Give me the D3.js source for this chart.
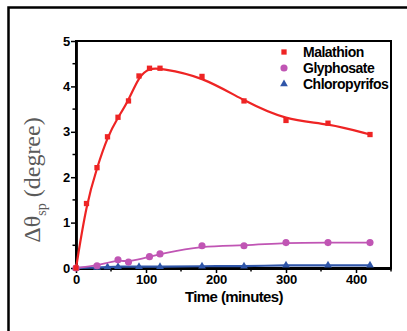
<!DOCTYPE html>
<html lang="en">
<head>
<meta charset="UTF-8">
<title>Contact angle change</title>
<script src="https://d3js.org/d3.v7.min.js"></script>
<style>
  body { margin: 0; background: #fff; }
  text { font-family: "Liberation Sans", Arial, sans-serif; }
</style>
</head>
<body>
<script>
    const width  = 407;
    const height = 331;

    // time in minutes
    const malathionT = [0, 15, 30, 45, 60, 75, 90, 105, 120, 180, 240, 300, 360, 420];
    const malathionY = [0, 1.42, 2.21, 2.89, 3.32, 3.68, 4.23, 4.40, 4.40, 4.22, 3.68, 3.25, 3.19, 2.94];

    const glyphosateT = [0, 30, 60, 75, 105, 120, 180, 240, 300, 360, 420];
    const glyphosateY = [0, 0.05, 0.18, 0.13, 0.25, 0.31, 0.49, 0.49, 0.56, 0.56, 0.56];

    const chloroT = [0, 30, 45, 60, 90, 120, 180, 240, 300, 360, 420];
    const chloroY = [0, 0.01, 0.02, 0.03, 0.03, 0.03, 0.04, 0.04, 0.06, 0.06, 0.06];

    const xTicks = [0, 100, 200, 300, 400];
    const yTicks = [0, 1, 2, 3, 4, 5];
    const legendNames = ["Malathion", "Glyphosate", "Chloropyrifos"];

    const plotLeft = 76, plotRight = 391, plotTop = 41, plotBottom = 268;

    const x = d3.scaleLinear().domain([0, 450]).range([plotLeft, plotRight]);
    const y = d3.scaleLinear().domain([0, 5]).range([plotBottom, plotTop]);

    const svg = d3.select("body").append("svg")
        .attr("width", width).attr("height", height);

    // outer frame (runs off the picture on the right and bottom)
    svg.append("path")
        .attr("d", "M8.5,340 V7.5 H420")
        .style("fill", "none").style("stroke", "#000").style("stroke-width", 2.5);

    // plot box
    svg.append("rect")
        .attr("x", plotLeft).attr("y", plotTop)
        .attr("width", plotRight - plotLeft).attr("height", plotBottom - plotTop)
        .style("fill", "none").style("stroke", "#000").style("stroke-width", 2);

    // minor ticks
    const minorX = d3.range(50, 451, 100);
    const minorY = d3.range(0.5, 5, 1);
    svg.append("g").selectAll("line").data(minorX).join("line")
        .attr("x1", d => x(d)).attr("x2", d => x(d))
        .attr("y1", plotBottom).attr("y2", plotBottom + 3.5)
        .style("stroke", "#000").style("stroke-width", 1.5);
    svg.append("g").selectAll("line").data(minorY).join("line")
        .attr("x1", plotLeft).attr("x2", plotLeft - 3.5)
        .attr("y1", d => y(d)).attr("y2", d => y(d))
        .style("stroke", "#000").style("stroke-width", 1.5);

    const xAxis = d3.axisBottom(x).tickValues(xTicks).tickSize(5).tickSizeOuter(0).tickPadding(2);
    const yAxis = d3.axisLeft(y).tickValues(yTicks).tickFormat(d3.format("d"))
                    .tickSize(5).tickSizeOuter(0).tickPadding(1);

    const gx = svg.append("g").attr("transform", "translate(0," + plotBottom + ")").call(xAxis);
    const gy = svg.append("g").attr("transform", "translate(" + plotLeft + ",0)").call(yAxis);

    [gx, gy].forEach(g => {
        g.select(".domain").style("stroke", "#000").style("stroke-width", 2.8);
        g.selectAll(".tick line").style("stroke", "#000").style("stroke-width", 1.5);
        g.selectAll(".tick text")
            .style("font-family", "'Liberation Sans', Arial, sans-serif")
            .style("font-size", "13px").style("font-weight", "bold")
            .style("fill", "#000").style("letter-spacing", "-0.3px");
    });

    // axis titles
    svg.append("text")
        .attr("x", 234).attr("y", 302)
        .attr("text-anchor", "middle")
        .style("font-size", "15px").style("font-weight", "bold")
        .style("letter-spacing", "-0.6px")
        .text("Time (minutes)");

    const yt = svg.append("text")
        .attr("transform", "translate(40,180) rotate(-90)")
        .attr("text-anchor", "middle")
        .style("font-family", "'Liberation Serif', 'Times New Roman', serif")
        .style("font-size", "24px").style("fill", "#5a5a5a");
    yt.append("tspan").text("\u0394\u03b8");
    yt.append("tspan").attr("dy", 6).style("font-size", "14px").text("sp");
    yt.append("tspan").attr("dy", -6).text(" (degree)");

    const series = [
        { t: malathionT, v: malathionY, color: "#ee2424", width: 2.2, shape: d3.symbolSquare, size: 28 },
        { t: glyphosateT, v: glyphosateY, color: "#c055b4", width: 1.8, shape: d3.symbolCircle, size: 40 },
        { t: chloroT, v: chloroY, color: "#2f55a8", width: 2.2, shape: d3.symbolTriangle, size: 26 }
    ];

    // smooth fitted curve, as in the original plot
    const line = d3.line()
        .x(d => x(d[0]))
        .y(d => y(d[1]))
        .curve(d3.curveBasis);

    series.slice().reverse().forEach(s => {
        const pts = s.t.map((t, i) => [t, s.v[i]]);
        svg.append("path")
            .attr("d", line(pts))
            .style("fill", "none")
            .style("stroke", s.color)
            .style("stroke-width", s.width);
        svg.append("g").selectAll("path").data(pts).join("path")
            .attr("transform", d => "translate(" + x(d[0]) + "," + y(d[1]) + ")")
            .attr("d", d3.symbol().type(s.shape).size(s.size))
            .style("fill", s.color);
    });

    // legend
    const legend = svg.append("g");
    legendNames.forEach((name, i) => {
        const s = series[i];
        const cy = 52 + i * 16;
        legend.append("path")
            .attr("transform", "translate(284," + cy + ")")
            .attr("d", d3.symbol().type(s.shape).size(s.size))
            .style("fill", s.color);
        legend.append("text")
            .attr("x", 303).attr("y", cy + 5)
            .style("font-size", "14px").style("font-weight", "bold")
            .style("letter-spacing", "-0.5px")
            .text(name);
    });
</script>
</body>
</html>
